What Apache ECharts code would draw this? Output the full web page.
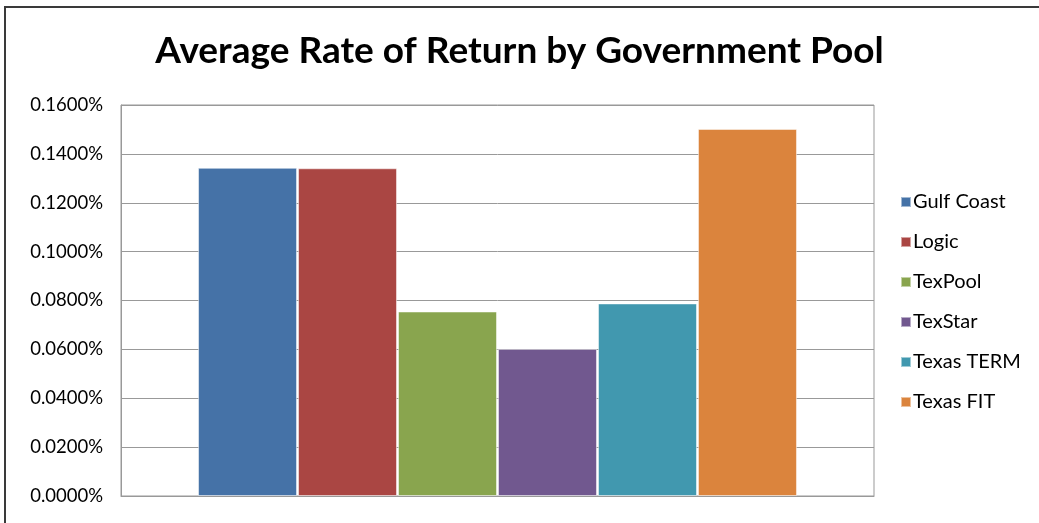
<!DOCTYPE html>
<html>
<head>
<meta charset="utf-8">
<style>
  html, body { margin: 0; padding: 0; background: #fff; }
  #chart { width: 1039px; height: 523px; }
</style>
<script src="https://cdn.jsdelivr.net/npm/echarts@6/dist/echarts.min.js"></script>
</head>
<body>
<div id="chart"></div>
<script>
// values are in percent (0.1343 means 0.1343%)
var pools = ['Gulf Coast', 'Logic', 'TexPool', 'TexStar', 'Texas TERM', 'Texas FIT']
var rates = [0.1343, 0.1341, 0.0755, 0.0602, 0.0788, 0.1502]
var colors = ['#4572A7', '#AA4643', '#89A54E', '#71588F', '#4198AF', '#DB843D']
var category = ['']

var fontFamily = 'Lato, "Open Sans", sans-serif'

var chart = echarts.init(document.getElementById('chart'))

var series = pools.map(function (name, i) {
  return {
    name: name,
    type: 'bar',
    data: [rates[i]],
    barWidth: 99,
    barGap: '1%',
    itemStyle: {
      color: colors[i],
      borderColor: 'rgba(255,255,255,0.5)',
      borderWidth: 1
    },
    animation: false
  }
})

chart.setOption({
  animation: false,
  textStyle: { fontFamily: fontFamily },
  title: {
    text: 'Average Rate of Return by Government Pool',
    left: 'center',
    top: 28,
    textStyle: {
      fontSize: 37,
      fontWeight: 'bold',
      color: '#000',
      fontFamily: fontFamily
    }
  },
  graphic: [{
    type: 'rect',
    shape: { x: 5, y: 7, width: 1100, height: 600 },
    style: { fill: 'none', stroke: '#3a3a3a', lineWidth: 2 },
    silent: true
  }],
  grid: {
    left: 121,
    right: 1039 - 874,
    top: 105,
    bottom: 523 - 496,
    show: true,
    borderColor: '#999',
    borderWidth: 1
  },
  legend: {
    orient: 'vertical',
    left: 895,
    top: 187,
    itemWidth: 10,
    itemHeight: 10,
    itemGap: 20,
    icon: 'rect',
    data: pools,
    textStyle: { fontSize: 20, color: '#000', fontFamily: fontFamily, padding: [0, 0, 0, -3] }
  },
  xAxis: {
    type: 'category',
    data: category,
    axisLine: { show: true, lineStyle: { color: '#999' } },
    axisTick: { show: false },
    axisLabel: { show: false }
  },
  yAxis: {
    type: 'value',
    min: 0,
    max: 0.16,
    interval: 0.02,
    axisLine: { show: true, lineStyle: { color: '#999' } },
    axisTick: { show: false },
    axisLabel: {
      fontSize: 18.5,
      color: '#000',
      margin: 18,
      formatter: function (v) { return v.toFixed(4) + '%' }
    },
    splitLine: { lineStyle: { color: '#999', width: 1 } }
  },
  series: series
})
</script>
</body>
</html>
